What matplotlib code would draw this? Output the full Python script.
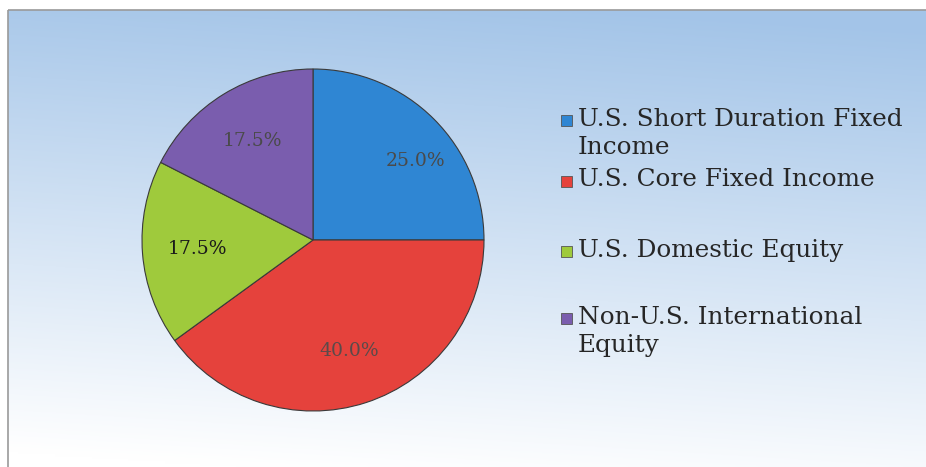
"""Asset allocation pie."""

import matplotlib

matplotlib.use("Agg")
import matplotlib.pyplot as plt
import numpy as np
from matplotlib.patches import Rectangle

categories = [
    "U.S. Short Duration Fixed\nIncome",
    "U.S. Core Fixed Income",
    "U.S. Domestic Equity",
    "Non-U.S. International\nEquity",
]
weights = [25.0, 40.0, 17.5, 17.5]
colors = ["#2f86d3", "#e5423c", "#9fca3c", "#7a5dae"]
label_colors = ["#4a4a4a", "#5a4a4a", "#1a1a1a", "#4a4a4a"]

fig = plt.figure(figsize=(9.26, 4.67), dpi=100)

# background gradient (blue at top right, fading to white at bottom)
bg = fig.add_axes([0, 0, 1, 1])
bg.set_xlim(0, 926)
bg.set_ylim(467, 0)
bg.axis("off")
yy, xx = np.mgrid[0:1:200j, 0:1:400j]
t = np.clip(1.0 - 0.95 * yy + 0.12 * xx - 0.08, 0, 1)
top = np.array([0.64, 0.77, 0.91])
white = np.array([1.0, 1.0, 1.0])
img = white + (top - white) * t[..., None]
bg.imshow(img, extent=[8, 926, 467, 10], aspect="auto", zorder=0)
bg.add_patch(Rectangle((8, 10), 930, 470, fill=False, ec="#9a9a9a", lw=1.2, zorder=1))

ax = fig.add_axes([142 / 926, 1 - 412 / 467, 342 / 926, 344 / 467])
wedges, texts, autotexts = ax.pie(
    weights, colors=colors, startangle=90, counterclock=False,
    autopct="%.1f%%", pctdistance=0.68,
    wedgeprops=dict(edgecolor="#3a3a3a", linewidth=0.8),
    textprops=dict(family="DejaVu Serif", fontsize=13.5),
)
for t_, c in zip(autotexts, label_colors):
    t_.set_color(c)
autotexts[0].set_position((0.6, 0.46))
ax.set_xlim(-1.0, 1.0)
ax.set_ylim(-1.0, 1.0)
ax.set_aspect("equal")

# legend, placed like the original's uneven spacing
legend_y = [127, 188, 258, 325]
for label, col, y in zip(categories, colors, legend_y):
    bg.add_patch(Rectangle((561, y - 12), 11, 11, fc=col, ec="#555555", lw=0.6, zorder=2))
    bg.text(578, y - 19.5, label, fontsize=17.8, family="DejaVu Serif", color="#262626",
            va="top", ha="left", linespacing=1.3, zorder=2)

fig.savefig("out.png", dpi=100)
